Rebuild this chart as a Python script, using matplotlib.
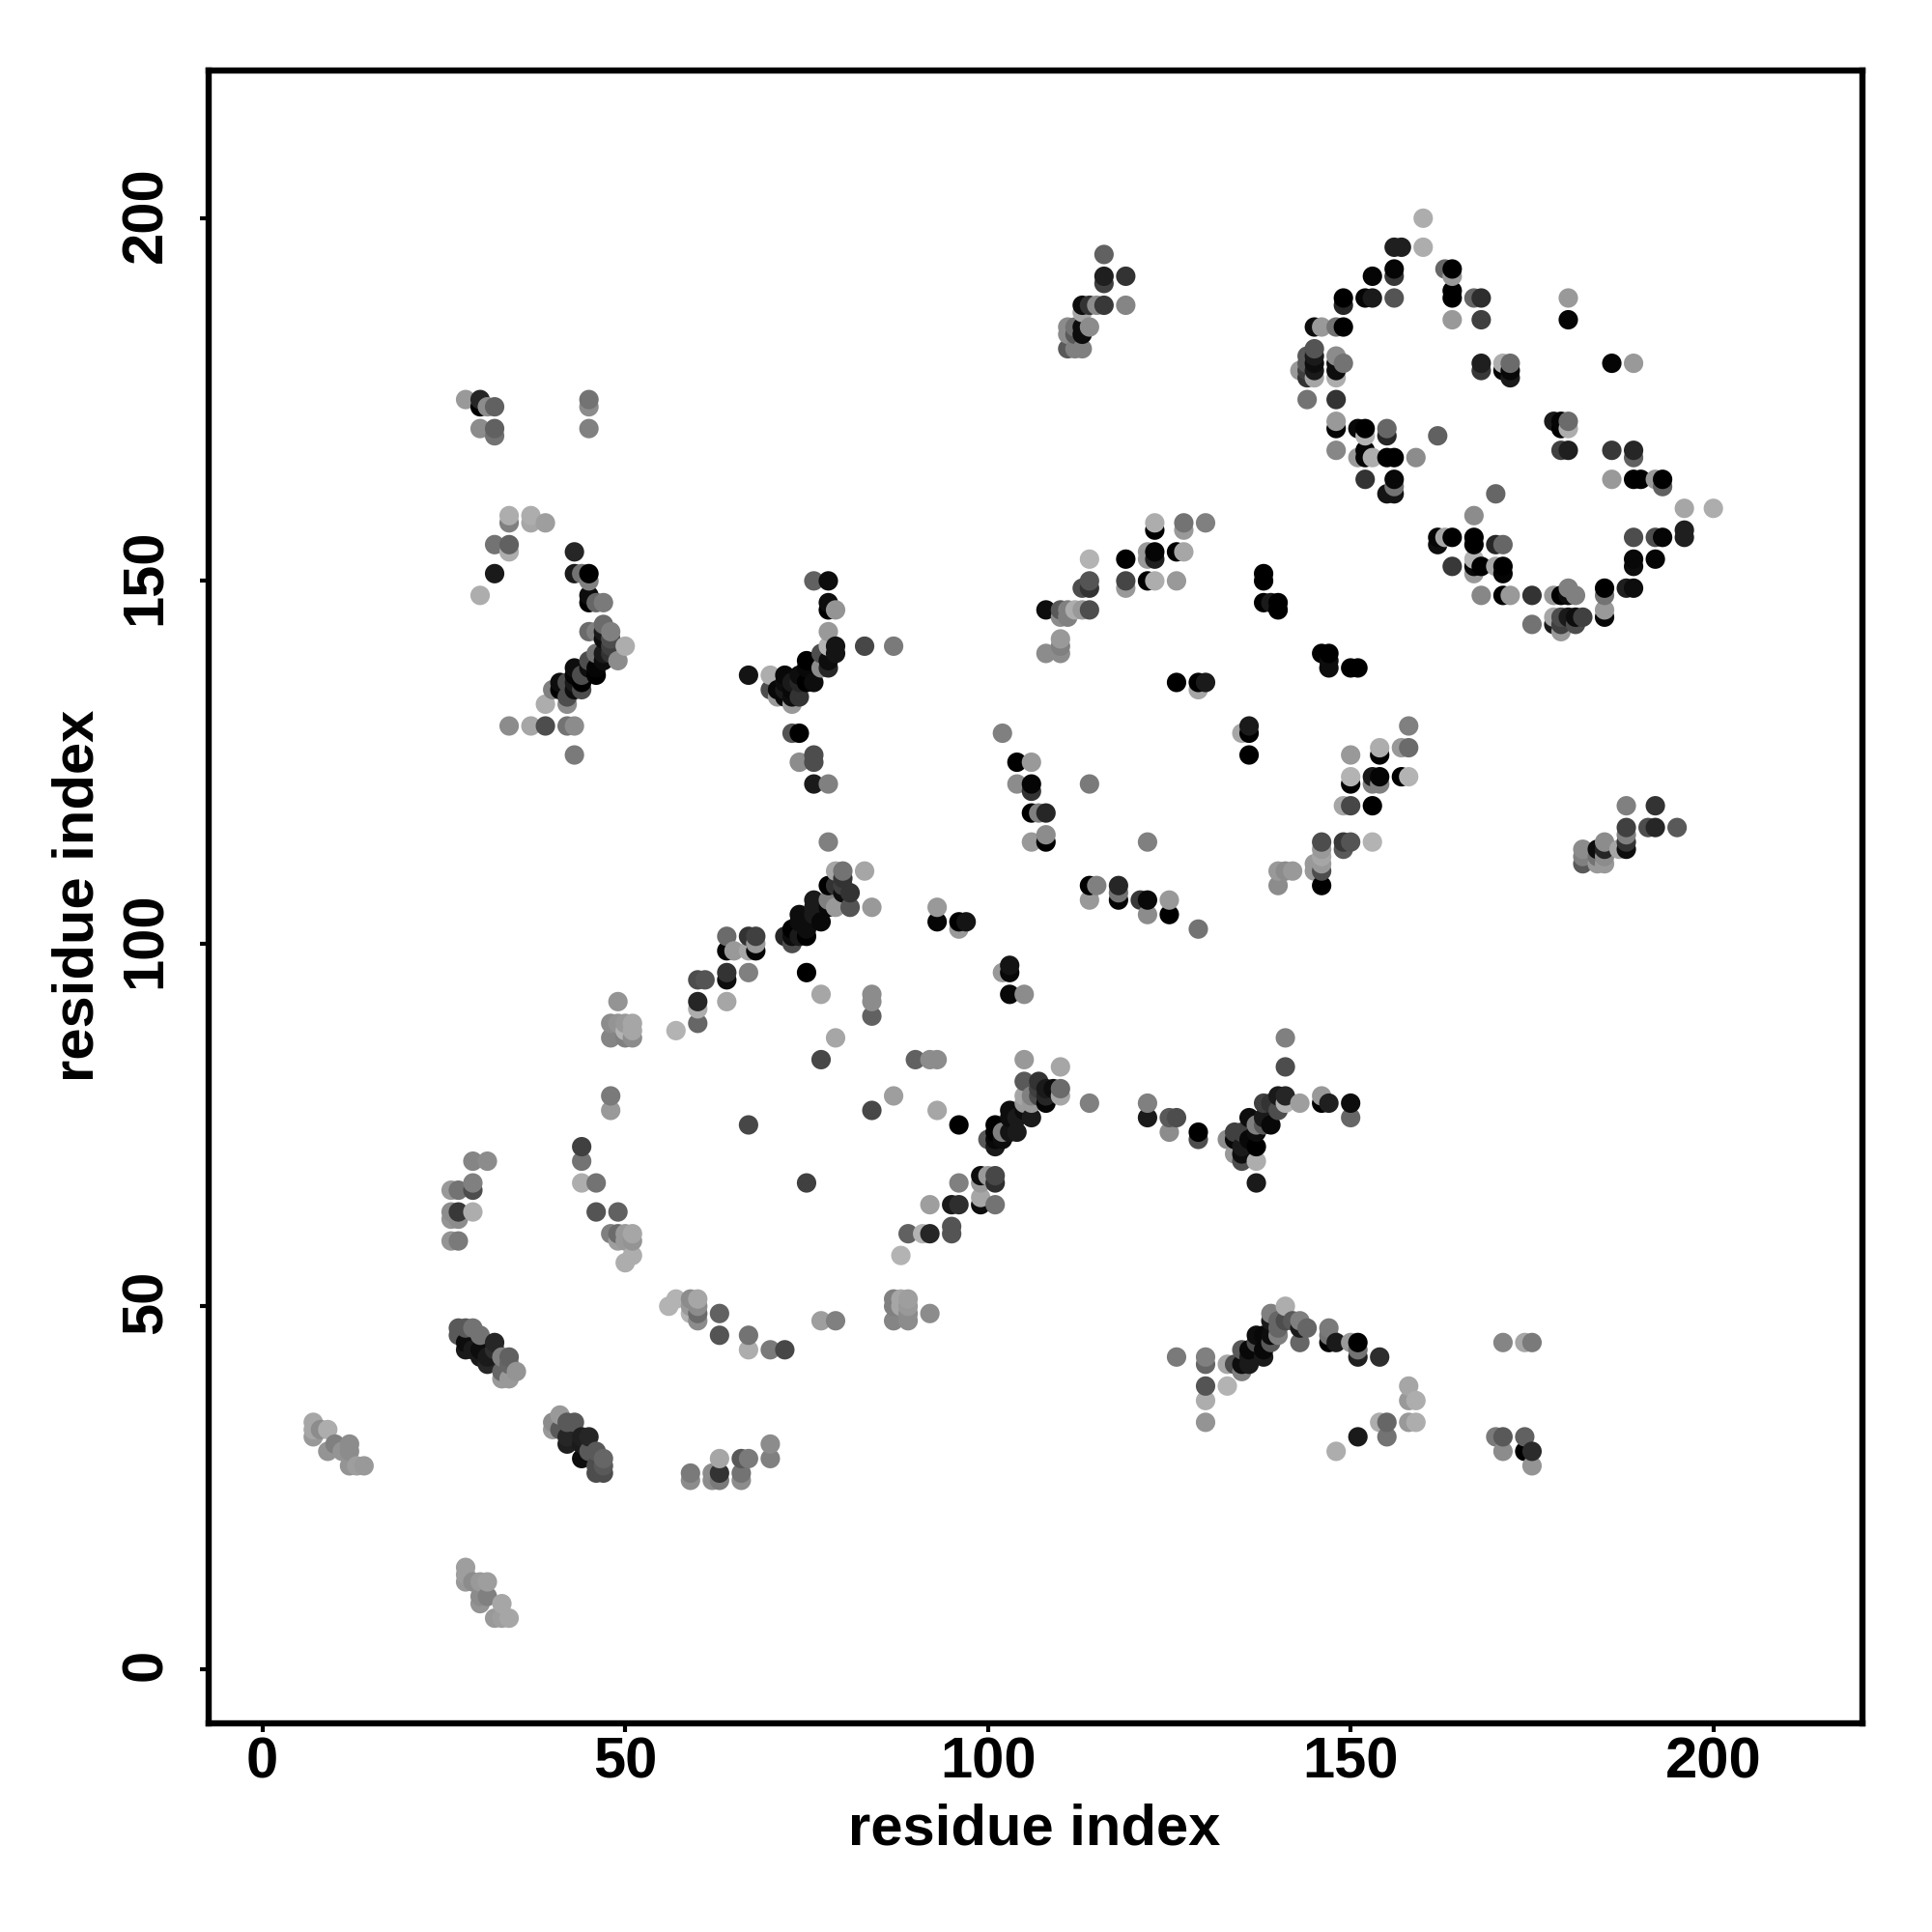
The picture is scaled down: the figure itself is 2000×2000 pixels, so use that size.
import numpy as np
import matplotlib
matplotlib.use("Agg")
import matplotlib.pyplot as plt
from matplotlib.transforms import ScaledTranslation

plt.rcParams['font.family'] = ['Liberation Sans', 'DejaVu Sans']

# contacts: (residue i, residue j, grey level of the point)
ring_top = [
 (160,200,.68),(160,196,.68),(156,196,.12),(157,196,.12),(156,193,.02),(156,192,.22),(153,192,.02),
 (163,193,.4),(164,193,0),(164,192,.6),(164,190,0),(164,189,0),(167,189,.4),(168,189,.18),(164,186,.6),(168,186,.25),
 (149,189,0),(149,188,.15),(152,189,.02),(153,189,.1),(156,189,.33),(180,189,.6),(180,186,.02),
 (145,185,.05),(146,185,.6),(148,185,.45),(149,185,0),
 (145,182,.33),(144,181,.35),(145,181,.1),(144,180,.35),(145,180,.05),(143,179,.6),(144,179,.25),(145,179,.1),(144,178,.2),(145,178,.65),
 (148,181,.55),(148,180,.05),(149,180,.45),(148,179,.05),(148,178,.68),(144,175,.45),(148,175,.2),
 (148,172,.6),(148,171,.02),(151,171,.03),(152,171,0),(152,170,.7),(155,171,.4),(155,170,.15),(162,170,.38),(148,168,.53),
 (151,167,.6),(152,168,.02),(152,167,.02),(153,167,.68),(155,167,0),(156,167,0),(159,167,.55),
 (152,164,.2),(156,164,.03),(156,163,.45),(155,162,.08),(156,162,.08),
]
ring_right = [
 (186,180,.02),(189,180,.6),(168,180,.12),(168,179,.22),(171,180,.68),(171,179,.02),(172,180,.42),(172,179,.03),(172,178,.1),
 (178,172,.1),(179,172,.02),(180,172,.42),(179,171,0),(180,171,.68),(179,168,.25),(180,168,.12),
 (186,168,.22),(189,168,.15),(189,167,.38),(186,164,.6),(189,164,0),(190,164,0),(192,164,.6),(193,164,0),(193,163,.38),
 (196,160,.65),(200,160,.68),(196,157,.12),(196,156,.12),(189,156,.3),(192,156,.3),(193,156,.02),
 (189,153,.03),(189,152,.05),(192,153,.02),(188,149,.12),(189,149,.05),(185,149,0),(185,148,.45),(185,146,.6),(185,145,.03),
]
ring_bottom = [
 (170,162,.4),(167,159,.55),(162,156,.02),(162,155,.05),(163,156,.65),(164,156,0),(167,156,0),(167,155,0),(170,155,.15),(171,155,.4),
 (164,152,.22),(167,153,.7),(167,152,.03),(168,152,0),(167,151,.6),(170,152,.65),(171,152,0),(171,151,.02),
 (168,148,.53),(171,148,0),(172,148,.6),(175,148,.2),(178,148,.6),(179,148,0),(180,149,.5),(180,148,.05),(181,148,.5),
 (175,144,.45),(178,145,.65),(179,145,.3),(180,145,.1),(181,145,.05),(182,145,.25),(178,144,.1),(179,144,.25),(181,144,.3),(179,143,.6),
]
mid_upper = [
 (123,158,.68),(123,157,0),(127,158,.45),(127,157,.6),(130,158,.5),(114,153,.7),(119,153,0),(122,154,.6),(122,153,.6),(123,154,.02),(123,153,.12),
 (126,154,0),(127,154,.65),(114,150,.33),(113,149,.3),(114,149,.2),(119,150,.27),(119,149,.6),(122,150,0),(123,150,.68),(126,150,.6),
 (108,146,.05),(110,146,.35),(111,146,.5),(112,146,.68),(113,146,.6),(114,146,.3),(110,145,.55),(111,145,.5),
 (110,142,.6),(110,141,.5),(108,140,.55),(110,140,.55),
 (138,151,0),(138,150,0),(138,147,0),(139,147,.1),(140,147,0),(140,146,0),
 (146,140,0),(147,140,0),(147,139,.05),(147,138,.05),(150,138,0),(151,138,0),
 (126,136,0),(129,136,0),(130,136,.1),(129,135,.65),(136,130,.1),(136,129,0),(135,129,.65),(136,126,0),
]
mid_right = [
 (158,130,.5),(157,127,.6),(158,127,.42),(154,127,.68),(154,126,0),(150,126,.6),(150,123,.7),(150,122,0),(153,123,.1),(154,123,.02),
 (153,122,.5),(154,122,.5),(157,123,0),(158,123,.7),(149,119,.65),(150,119,.28),(153,119,0),
 (146,114,.3),(149,114,.22),(150,114,.33),(149,113,.35),(153,114,.7),(146,113,.6),(146,112,.65),(146,111,.6),(146,110,.3),(145,111,.6),(145,110,.6),
 (146,108,0),(140,110,.6),(141,110,.55),(142,110,.6),(140,108,.55),
]
mid_left = [
 (102,129,.5),(104,125,0),(106,125,.6),(104,122,.55),(106,122,.02),(106,121,.2),(114,122,.48),(106,118,0),(107,118,.5),(108,118,.15),
 (106,114,.6),(108,115,.55),(108,114,0),(122,114,.5),(114,108,0),(115,108,.5),(114,106,.6),(118,108,.15),(118,107,.45),(118,106,.02),
 (121,106,.22),(122,106,.03),(122,104,.55),(125,106,.6),(125,104,0),(129,102,.45),
]
diagonal_upper = [
 (78,114,.5),(79,110,.65),(80,110,.45),(83,110,.65),(80,109,.2),(78,108,0),(79,108,.2),(80,108,.25),(80,107,.05),(81,107,.2),
 (76,106,.1),(78,106,.5),(79,105,.6),(81,105,.33),(84,105,.6),(78,105,.03),(74,104,.05),(76,105,.1),(76,104,.1),(77,103,.03),
 (74,103,.05),(75,102,.05),(73,102,0),(74,101,.1),(75,101,0),(72,101,.15),(73,101,.05),(73,100,.3),
 (64,101,.42),(67,101,.2),(68,101,.25),(68,100,.6),(68,99,.02),(64,99,.02),(65,99,.6),(67,99,.65),
 (60,95,.3),(61,95,.33),(64,96,.2),(64,95,.05),(67,96,.5),(60,92,.15),(60,91,.68),(64,92,.65),(60,89,.4),(57,88,.7),
 (75,96,0),(77,93,.65),(84,93,.55),(84,92,.55),(84,90,.38),(79,87,.65),(77,84,.28),
]
scattered_mid = [
 (93,105,.6),(93,103,.02),(96,103,0),(97,103,.08),(96,102,.6),(103,97,.08),(103,96,.03),(102,96,.6),(103,93,.03),(105,93,.55),
 (90,84,.38),(92,84,.55),(93,84,.55),(87,79,.62),(84,77,.28),(93,77,.65),(67,75,.28),(96,75,0),(75,67,.25),
]
diagonal_lower = [
 (105,84,.6),(110,83,.65),(114,78,.5),(105,81,.35),(107,81,.2),(107,80,.25),(108,80,.1),(109,80,.05),(110,80,.42),(110,79,.65),
 (108,79,.15),(108,78,.02),(107,79,.3),(105,79,.65),(106,79,.5),(105,78,.6),(106,78,.6),(103,77,.05),(105,77,.05),(106,76,.1),(104,76,.1),(103,76,.05),
 (101,75,0),(101,74,0),(102,74,.5),(103,74,.08),(104,74,.1),(102,73,.05),(100,73,.35),(101,73,.03),(101,72,.1),
 (99,68,.05),(96,67,.5),(100,68,.6),(101,68,.28),(101,67,.18),(99,67,.6),(92,64,.62),(95,64,.1),(96,64,.18),(99,65,.65),(99,64,.05),(101,64,.45),
 (89,60,.38),(91,60,.7),(92,60,.15),(95,61,.33),(95,60,.33),(88,57,.7),
]
left_upper = [
 (28,175,.6),(30,175,.15),(30,174,0),(31,174,.55),(32,174,.38),(30,171,.55),(32,171,.38),(32,170,.45),(45,175,.45),(45,174,.55),(45,171,.5),
 (34,159,.68),(34,158,.5),(37,159,.68),(37,158,.65),(39,158,.62),(32,155,.45),(34,155,.38),(34,154,.68),(43,154,.15),(32,151,.1),(30,148,.68),
 (43,151,.1),(44,151,.45),(45,151,0),(45,150,.5),(45,148,.05),(45,147,0),(46,147,.4),(47,147,.48),
 (45,143,.42),(46,143,.5),(47,144,.42),(48,143,.5),(47,143,.1),(47,142,.05),(48,142,.3),(50,141,.68),(48,141,.25),
 (46,140,.45),(48,140,.2),(47,140,.1),(49,139,.55),(47,139,.05),(45,139,.3),(46,138,.02),(45,138,.05),(46,137,0),(43,138,.05),(43,137,.02),
 (44,137,.3),(44,136,0),(42,136,.3),(43,136,.1),(41,136,.05),(41,135,0),(43,135,.05),(44,135,.3),(40,135,.5),(42,134,.3),(42,133,.55),(39,133,.68),
 (34,130,.55),(37,130,.65),(39,130,.3),(42,130,.45),(43,130,.55),(43,126,.48),
]
cross_upper = [
 (76,150,.38),(78,150,.05),(78,147,.05),(78,146,0),(79,146,.58),(78,143,.6),(78,141,.7),(79,141,.08),(79,140,.08),(83,141,.28),(87,141,.48),
 (77,140,.3),(78,139,.05),(78,138,.15),(75,139,0),(77,138,.55),(67,137,.08),(70,137,.68),(72,137,.03),(74,137,.05),(75,138,.03),
 (76,136,.05),(75,136,0),(73,136,.1),(72,136,.05),(74,136,.15),(70,135,.3),(71,135,.03),(72,135,.1),(73,135,.03),
 (71,134,.6),(72,134,.03),(73,134,.05),(74,134,.2),(73,133,.6),(73,129,.33),(74,129,0),(76,126,.3),(76,125,.3),(74,125,.55),(76,122,.1),(78,122,.5),
]
bottom_left = [
 (27,47,.35),(27,46,.35),(28,47,.35),(29,47,.45),(30,46,.45),(28,45,.05),(29,44,.1),(32,45,.15),(32,44,.18),(30,43,.1),(31,42,.15),
 (33,43,.5),(34,43,.38),(34,42,.4),(33,41,.4),(35,41,.58),(33,40,.6),(34,40,.6),(28,44,.1),(30,44,.05),(31,43,.1),
 (41,35,.6),(40,34,.55),(42,34,.35),(43,34,.35),(40,33,.6),(41,33,.35),(42,32,.15),(44,32,.12),(45,32,.15),(42,31,.12),(44,31,.1),
 (45,30,.35),(46,30,.35),(44,29,.05),(47,29,.4),(46,28,.3),(47,28,.35),(46,27,.3),(47,27,.3),
 (59,27,.48),(59,26,.55),(62,27,.55),(63,27,.2),(62,26,.55),(63,26,.48),(66,27,.45),(66,26,.55),(63,29,.65),(66,29,.35),(67,29,.48),(70,31,.55),(70,29,.5),
 (7,34,.65),(7,33,.65),(7,32,.6),(8,33,.55),(9,33,.68),(10,31,.5),(9,30,.58),(12,31,.55),(11,30,.58),(12,30,.55),(12,28,.58),(13,28,.62),(14,28,.6),
 (28,14,.62),(28,13,.62),(28,12,.6),(29,12,.55),(30,12,.6),(31,12,.62),(30,10,.55),(31,10,.5),(30,9,.58),(33,9,.65),(32,7,.6),(33,7,.62),(34,7,.65),
]
cross_lower = [
 (141,87,.5),(141,83,.3),(122,78,.5),(122,76,.1),(125,76,.35),(126,76,.3),(125,74,.55),(129,74,0),(129,73,.3),
 (133,73,.55),(134,74,.25),(135,74,.25),(134,73,.03),(135,72,.1),(136,73,.03),(137,72,0),(134,71,.6),(135,71,.05),(135,70,.3),(137,70,.68),(137,67,.1),
 (136,76,.05),(137,74,.05),(137,75,.5),(138,78,.25),(138,75,.35),(139,75,.03),(139,78,.2),(140,77,.3),(140,79,.1),(141,79,.15),(141,78,.7),
 (143,78,.62),(146,79,.6),(146,78,0),(147,78,.12),(150,78,.05),(150,76,.4),(138,76,.1),
]
arch_lower = [
 (141,50,.68),(139,49,.5),(140,48,.4),(141,48,.3),(142,48,.35),(143,48,.5),(144,47,.4),(143,47,.1),(140,47,.4),(139,48,.1),
 (147,47,.48),(147,46,.45),(143,45,.4),(138,46,.03),(137,46,.05),(139,46,.05),(140,46,.5),(139,45,.35),(137,45,.3),(136,44,.03),(138,44,.03),
 (135,44,.35),(136,43,.1),(138,43,.1),(135,42,.05),(136,42,.1),(134,42,.3),(133,42,.65),(135,41,.5),
 (147,45,0),(148,45,.1),(150,45,.6),(151,45,0),(151,44,.45),(151,43,.12),(154,43,.18),
 (126,43,.48),(130,43,.5),(130,42,.4),(130,39,.33),(133,39,.7),(130,37,.68),(130,34,.58),
 (171,45,.52),(174,45,.65),(175,45,.48),(158,39,.65),(158,37,.6),(159,37,.68),(158,34,.6),(159,34,.68),(154,34,.68),(155,34,.4),(155,32,.45),
 (151,32,.1),(148,30,.68),(170,32,.48),(171,32,.35),(171,30,.55),(174,32,.38),(174,30,0),(175,30,.17),(175,28,.58),
]
upper_center = [
 (116,195,.38),(116,192,.12),(116,191,.25),(119,192,.2),(113,188,.05),(114,188,.2),(115,188,.55),(116,188,.22),(119,188,.52),(113,187,.65),
 (111,185,.55),(112,185,.45),(113,185,.05),(114,185,.55),(111,184,.55),(112,184,.35),(113,184,.05),(111,182,.35),(112,182,.5),(113,182,.5),
]
right_block = [
 (188,119,.5),(192,119,.2),(188,116,.25),(188,115,.5),(191,116,.3),(192,116,.15),(195,116,.35),(188,114,.2),(188,113,.05),(187,113,.65),
 (185,114,.55),(185,113,.15),(184,113,.05),(184,112,.45),(185,112,.55),(185,111,.6),(184,111,.6),(182,113,.55),(182,112,.5),(182,111,.35),
]
left_lower = [
 (49,92,.58),(48,89,.55),(49,89,.58),(50,89,.6),(51,89,.65),(51,88,.65),(50,88,.7),(48,87,.52),(50,87,.5),(51,87,.55),
 (48,79,.48),(48,77,.6),(44,72,.25),(44,70,.45),(44,67,.68),(46,67,.45),(46,63,.33),(49,63,.38),
 (48,60,.5),(49,60,.42),(50,60,.6),(51,60,.65),(49,59,.62),(50,59,.6),(51,59,.58),(51,57,.68),(50,56,.68),
 (29,70,.52),(31,70,.55),(29,67,.5),(29,66,.3),(26,66,.6),(27,66,.45),(26,63,.55),(27,63,.22),(29,63,.68),(26,62,.58),(27,62,.55),(26,59,.58),(27,59,.48),
]
bottom_mid = [
 (56,50,.7),(57,51,.7),(59,51,.55),(60,51,.65),(59,50,.6),(60,50,.55),(59,49,.7),(60,49,.42),(60,48,.55),(63,49,.38),(63,46,.33),
 (67,46,.45),(67,44,.68),(70,44,.48),(72,44,.28),(77,48,.62),(79,48,.5),
 (87,51,.5),(88,51,.65),(89,51,.62),(87,50,.5),(88,50,.65),(89,50,.6),(87,48,.52),(89,49,.55),(89,48,.55),(92,49,.55),
]

clusters = [ring_top, ring_right, ring_bottom, mid_upper, mid_right, mid_left, diagonal_upper, scattered_mid,
            diagonal_lower, left_upper, cross_upper, bottom_left, cross_lower, arch_lower, upper_center,
            right_block, left_lower, bottom_mid]
ticks = [0, 50, 100, 150, 200]
axis_label = "residue index"

pts = np.array([p for c in clusters for p in c], dtype=float)
# later residues are painted over earlier ones
order = np.lexsort((pts[:, 1], pts[:, 0]))
pts = pts[order]

fig = plt.figure(figsize=(20, 20), dpi=100)
ax = fig.add_axes([216/2000, 1-1784/2000, (1928-216)/2000, (1784-72.7)/2000])
ax.scatter(pts[:, 0], pts[:, 1], s=210, c=[(g, g, g) for g in pts[:, 2]], linewidths=0, zorder=3)
ax.set_xlim(-7.42, 220.55)
ax.set_ylim(-7.5, 220.4)
for s in ax.spines.values():
    s.set_linewidth(4.6)
    s.set_color('black')
ax.set_xticks(ticks)
ax.set_yticks(ticks)
ax.tick_params(axis='both', length=6.5, width=3.0, color='black')
ax.tick_params(axis='x', pad=3.5)
ax.tick_params(axis='y', pad=20)
shift_up = ScaledTranslation(0, 4/100, fig.dpi_scale_trans)
for lab in ax.get_xticklabels():
    lab.set_fontsize(43); lab.set_fontweight('bold')
for lab in ax.get_yticklabels():
    lab.set_fontsize(43); lab.set_fontweight('bold')
    lab.set_rotation(90); lab.set_va('center')
    lab.set_transform(lab.get_transform() + shift_up)
ax.set_xlabel(axis_label, fontsize=43, fontweight='bold')
ax.set_ylabel(axis_label, fontsize=43, fontweight='bold')
ax.xaxis.set_label_coords(1071/2000, 1-1894/2000, transform=fig.transFigure)
ax.yaxis.set_label_coords(81/2000, 1-927/2000, transform=fig.transFigure)
ax.xaxis.label.set_va('center')
ax.yaxis.label.set_va('center')
fig.savefig("out.png", dpi=100, facecolor='white')
